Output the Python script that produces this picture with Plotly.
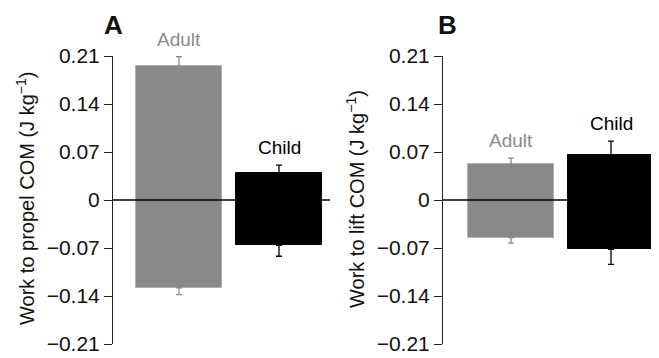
import plotly.graph_objects as go

groups = ["Adult", "Child"]
colors = ["#898989", "#000000"]

propel_top = [0.195, 0.039]
propel_top_err = [0.014, 0.012]
propel_bottom = [-0.128, -0.066]
propel_bottom_err = [0.010, 0.016]

lift_top = [0.052, 0.066]
lift_top_err = [0.009, 0.020]
lift_bottom = [-0.055, -0.072]
lift_bottom_err = [0.008, 0.022]

tick_vals = [-0.21, -0.14, -0.07, 0, 0.07, 0.14, 0.21]
tick_text = ["\u22120.21", "\u22120.14", "\u22120.07", "0", "0.07", "0.14", "0.21"]

FONT = "Liberation Sans, Arial, sans-serif"
OFF = 8  # page body margin
W, H = 659 - OFF, 358 - OFF
PLOT_TOP, PLOT_BOT = 56, 344  # in window pixels


def fx(px):
    return (px - OFF) / W


def fy(py):
    return (PLOT_BOT - py) / (PLOT_BOT - PLOT_TOP)


fig = go.Figure()

panels = [
    ("x", "y", propel_top, propel_top_err, propel_bottom, propel_bottom_err),
    ("x2", "y2", lift_top, lift_top_err, lift_bottom, lift_bottom_err),
]

for xa, ya, top, terr, bot, berr in panels:
    for i, g in enumerate(groups):
        fig.add_trace(go.Bar(
            x=[i], y=[top[i] - bot[i]], base=[bot[i]], width=0.86,
            marker=dict(color=colors[i], line=dict(color="#b0b0b0" if i == 0 else "#000000", width=1)),
            xaxis=xa, yaxis=ya, showlegend=False, hoverinfo="skip",
        ))
        fig.add_trace(go.Scatter(
            x=[i, i], y=[top[i], bot[i]], mode="markers",
            marker=dict(size=1, color="rgba(0,0,0,0)"),
            error_y=dict(type="data", symmetric=False, array=[terr[i], 0],
                         arrayminus=[0, berr[i]], color=colors[i] if i else "#8a8a8a",
                         thickness=1.3, width=3),
            xaxis=xa, yaxis=ya, showlegend=False, hoverinfo="skip",
        ))

yaxis_common = dict(
    range=[-0.21, 0.21], tickvals=tick_vals, ticktext=tick_text,
    showline=True, linecolor="#222222", linewidth=1,
    ticks="outside", ticklen=8, tickcolor="#222222",
    tickfont=dict(family=FONT, size=21, color="#111111"),
    showgrid=False, zeroline=False,
)
xaxis_common = dict(showline=False, showticklabels=False, showgrid=False,
                    zeroline=False, ticks="")

fig.update_layout(
    width=W, height=H,
    margin=dict(l=0, r=0, t=PLOT_TOP - OFF, b=358 - PLOT_BOT),
    paper_bgcolor="white", plot_bgcolor="white",
    xaxis=dict(domain=[fx(113), fx(330)], range=[-0.66, 1.51], **xaxis_common),
    xaxis2=dict(domain=[fx(443), 1.0], range=[-0.68, 1.48], **xaxis_common),
    yaxis=dict(anchor="x", **yaxis_common),
    yaxis2=dict(anchor="x2", **yaxis_common),
    bargap=0, barmode="overlay",
)

# zero lines
for xa, ya in [("x", "y"), ("x2", "y2")]:
    fig.add_shape(type="line", xref=f"{xa} domain", yref=ya, x0=0, x1=1, y0=0, y1=0,
                  line=dict(color="#000000", width=1.3), layer="above")

# y titles
for txt, px in [("Work to propel COM (J kg<sup>\u22121</sup>)", 25),
                ("Work to lift COM (J kg<sup>\u22121</sup>)", 355)]:
    fig.add_annotation(text=txt, xref="paper", yref="paper",
                       x=fx(px), y=fy(199), textangle=-90, showarrow=False,
                       font=dict(family=FONT, size=20, color="#111111"),
                       xanchor="center", yanchor="middle")

# panel letters
for letter, px in [("A", 113), ("B", 447)]:
    fig.add_annotation(text=f"<b>{letter}</b>", xref="paper", yref="paper",
                       x=fx(px), y=fy(25), showarrow=False,
                       font=dict(family=FONT, size=26, color="#111111"),
                       xanchor="center", yanchor="middle")

# group labels
labels = [
    ("x", "y", 0, propel_top[0] + propel_top_err[0], "Adult", "#8a8a8a"),
    ("x", "y", 1, propel_top[1] + propel_top_err[1], "Child", "#000000"),
    ("x2", "y2", 0, lift_top[0] + lift_top_err[0], "Adult", "#8a8a8a"),
    ("x2", "y2", 1, lift_top[1] + lift_top_err[1], "Child", "#000000"),
]
for xa, ya, xi, yv, txt, col in labels:
    fig.add_annotation(text=txt, xref=xa, yref=ya, x=xi, y=yv, showarrow=False,
                       yanchor="bottom", yshift=5, xanchor="center",
                       font=dict(family=FONT, size=19, color=col))

fig.write_html("out.html")
